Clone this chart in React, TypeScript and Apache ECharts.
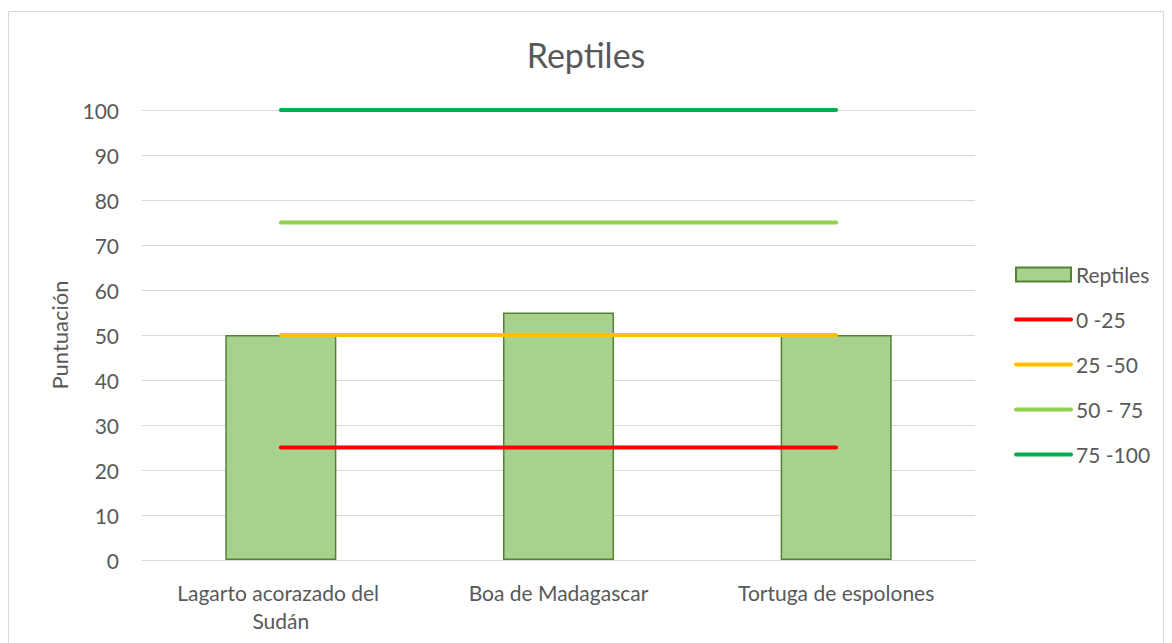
import React, { useEffect, useRef } from "react";
import * as echarts from "echarts";

const categories = ["Lagarto acorazado del Sudán", "Boa de Madagascar", "Tortuga de espolones"];
const reptiles = [50, 55, 50];
const band0_25 = [25, 25, 25];
const band25_50 = [50, 50, 50];
const band50_75 = [75, 75, 75];
const band75_100 = [100, 100, 100];
const legendNames = ["Reptiles", "0 -25", "25 -50", "50 - 75", "75 -100"];

const FONT = "Lato, 'Noto Sans', sans-serif";
const TXT = "#595959";

export default function App() {
  const ref = useRef<HTMLDivElement>(null);
  useEffect(() => {
    if (!ref.current) return;
    const chart = echarts.init(ref.current, undefined, { renderer: "svg" });
    const lineSeries = (name: string, data: number[], color: string) => ({
      name,
      type: "line",
      data,
      symbol: "none",
      lineStyle: { color, width: 4, cap: "round" },
      itemStyle: { color },
    });
    chart.setOption({
      animation: false,
      textStyle: { fontFamily: FONT },
      title: {
        text: "Reptiles",
        left: "center",
        top: 32,
        textStyle: { fontFamily: FONT, fontSize: 34, fontWeight: "normal", color: TXT },
      },
      graphic: [
        {
          type: "rect",
          shape: { x: 8.5, y: 11.5, width: 1155, height: 640 },
          style: { fill: "none", stroke: "#d9d9d9", lineWidth: 1 },
          silent: true,
        },
      ],
      grid: { left: 142, right: 197, top: 110, bottom: 83 },
      legend: {
        orient: "vertical",
        left: 1009,
        top: 259,
        itemWidth: 55,
        itemHeight: 14,
        itemGap: 24,
        textStyle: { fontFamily: FONT, fontSize: 21, color: TXT },
        data: legendNames.map((n, i) =>
          i === 0
            ? { name: n, icon: "rect" }
            : {
                name: n,
                itemStyle: { color: "rgba(0,0,0,0)", borderWidth: 0 },
                lineStyle: { width: 4, cap: "round" },
              }
        ),
      },
      xAxis: {
        type: "category",
        data: categories,
        axisLine: { lineStyle: { color: "#d9d9d9", width: 1 } },
        axisTick: { show: false },
        axisLabel: {
          interval: 0,
          fontFamily: FONT,
          fontSize: 21,
          color: TXT,
          margin: 18,
          width: 240,
          overflow: "break",
          lineHeight: 28,
        },
      },
      yAxis: {
        type: "value",
        min: 0,
        max: 100,
        interval: 10,
        name: "Puntuación",
        nameLocation: "middle",
        nameGap: 72,
        nameTextStyle: { fontFamily: FONT, fontSize: 22, color: TXT },
        axisLine: { show: false },
        axisTick: { show: false },
        axisLabel: { fontFamily: FONT, fontSize: 21, color: TXT, margin: 23 },
        splitLine: { lineStyle: { color: "#d9d9d9", width: 1 } },
      },
      series: [
        {
          name: "Reptiles",
          type: "bar",
          data: reptiles,
          barWidth: "40%",
          itemStyle: { color: "#A9D18E", borderColor: "#548235", borderWidth: 1.5 },
        },
        lineSeries("0 -25", band0_25, "#FF0000"),
        lineSeries("25 -50", band25_50, "#FFC000"),
        lineSeries("50 - 75", band50_75, "#92D050"),
        lineSeries("75 -100", band75_100, "#00B050"),
      ],
    });
    return () => chart.dispose();
  }, []);
  return (
    <div
      ref={ref}
      style={{ position: "fixed", left: 0, top: 0, width: 1172, height: 643, background: "#fff" }}
    />
  );
}
